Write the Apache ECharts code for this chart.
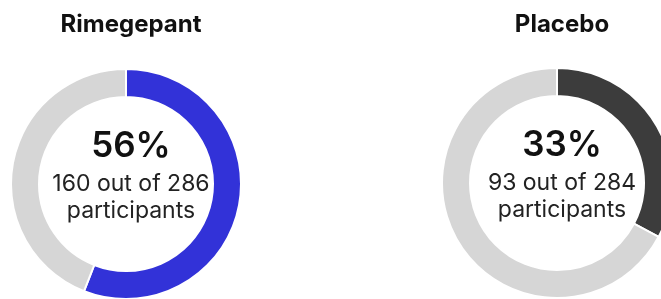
<!DOCTYPE html>
<html>
<head>
<meta charset="utf-8">
<script src="https://cdn.jsdelivr.net/npm/echarts@6/dist/echarts.min.js"></script>
<style>
  html, body { margin: 0; padding: 0; background: #fff; }
  #chart { width: 661px; height: 299px; }
</style>
</head>
<body>
<div id="chart"></div>
<script>
    "use strict";
    // 两组数据
    const groups = ["Rimegepant", "Placebo"];
    const responders = [160, 93];
    const totals = [286, 284];
    const percents = [56, 33];
    const colors = ["#3232d8", "#3c3c3c"];
    const restColor = "#d6d6d6";

    const centers = [[126, 184], [557, 183]];

    let chart = echarts.init(document.getElementById("chart"));

    let titles = [];
    let series = [];
    groups.forEach((name, i) => {
        //组名
        titles.push({
            text: name,
            left: centers[i][0],
            top: 8,
            textAlign: "center",
            textStyle: {fontFamily: "Inter", fontSize: 24, fontWeight: 700, color: "#111"}
        });
        //圆环中心文字
        titles.push({
            text: "{p|" + percents[i] + "%}\n{s|" + responders[i] + " out of " + totals[i] + "}\n{s|participants}",
            left: centers[i][0],
            top: centers[i][1] - 68,
            textAlign: "center",
            textStyle: {
                rich: {
                    p: {fontFamily: "Inter", fontSize: 35, fontWeight: 600, color: "#111", lineHeight: 50},
                    s: {fontFamily: "Inter", fontSize: 23, fontWeight: 400, color: "#222", lineHeight: 27}
                }
            }
        });
        series.push({
            type: "pie",
            center: centers[i],
            radius: [87, 115],
            startAngle: 90,
            clockwise: true,
            silent: true,
            animation: false,
            label: {show: false},
            labelLine: {show: false},
            itemStyle: {borderColor: "#fff", borderWidth: 2},
            data: [
                {value: responders[i], itemStyle: {color: colors[i]}},
                {value: totals[i] - responders[i], itemStyle: {color: restColor}}
            ]
        });
    });

    chart.setOption({
        backgroundColor: "#fff",
        title: titles,
        series: series
    });
</script>
</body>
</html>
